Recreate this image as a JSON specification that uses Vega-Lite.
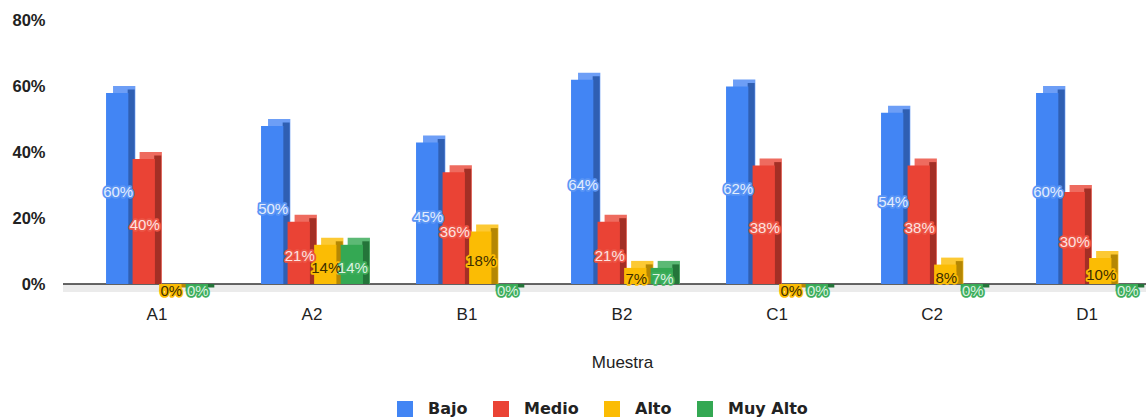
{
  "$schema": "https://vega.github.io/schema/vega-lite/v6.json",
  "width": 1083,
  "height": 264,
  "autosize": "none",
  "padding": {"left": 63, "top": 20, "right": 0, "bottom": 136},
  "config": {"view": {"stroke": null}, "font": "Liberation Sans"},
  "data": {
    "values": [
      {"muestra": "A1", "nivel": "Bajo", "valor": 0.60},
      {"muestra": "A1", "nivel": "Medio", "valor": 0.40},
      {"muestra": "A1", "nivel": "Alto", "valor": 0},
      {"muestra": "A1", "nivel": "Muy Alto", "valor": 0},
      {"muestra": "A2", "nivel": "Bajo", "valor": 0.50},
      {"muestra": "A2", "nivel": "Medio", "valor": 0.21},
      {"muestra": "A2", "nivel": "Alto", "valor": 0.14},
      {"muestra": "A2", "nivel": "Muy Alto", "valor": 0.14},
      {"muestra": "B1", "nivel": "Bajo", "valor": 0.45},
      {"muestra": "B1", "nivel": "Medio", "valor": 0.36},
      {"muestra": "B1", "nivel": "Alto", "valor": 0.18},
      {"muestra": "B1", "nivel": "Muy Alto", "valor": 0},
      {"muestra": "B2", "nivel": "Bajo", "valor": 0.64},
      {"muestra": "B2", "nivel": "Medio", "valor": 0.21},
      {"muestra": "B2", "nivel": "Alto", "valor": 0.07},
      {"muestra": "B2", "nivel": "Muy Alto", "valor": 0.07},
      {"muestra": "C1", "nivel": "Bajo", "valor": 0.62},
      {"muestra": "C1", "nivel": "Medio", "valor": 0.38},
      {"muestra": "C1", "nivel": "Alto", "valor": 0},
      {"muestra": "C1", "nivel": "Muy Alto", "valor": 0},
      {"muestra": "C2", "nivel": "Bajo", "valor": 0.54},
      {"muestra": "C2", "nivel": "Medio", "valor": 0.38},
      {"muestra": "C2", "nivel": "Alto", "valor": 0.08},
      {"muestra": "C2", "nivel": "Muy Alto", "valor": 0},
      {"muestra": "D1", "nivel": "Bajo", "valor": 0.60},
      {"muestra": "D1", "nivel": "Medio", "valor": 0.30},
      {"muestra": "D1", "nivel": "Alto", "valor": 0.10},
      {"muestra": "D1", "nivel": "Muy Alto", "valor": 0}
    ]
  },
  "resolve": {"scale": {"x": "independent", "y": "independent", "color": "independent", "fill": "independent", "stroke": "independent"}},
  "layer": [
    {
      "data": {"values": [{}]},
      "mark": {"type": "rule", "color": "#ebebeb", "strokeWidth": 8, "yOffset": 4},
      "encoding": {
        "y": {
          "datum": 0,
          "type": "quantitative",
          "scale": {"domain": [0, 0.8]},
          "axis": {
            "values": [0, 0.1, 0.2, 0.3, 0.4, 0.5, 0.6, 0.7, 0.8],
            "labelExpr": "round(datum.value * 100) % 20 === 0 ? round(datum.value * 100) + '%' : ''",
            "gridColor": {"condition": {"test": "round(datum.value * 100) % 20 === 0", "value": "#cccccc"}, "value": "#e6e6e6"},
            "gridWidth": 1,
            "domain": false,
            "ticks": false,
            "labelFont": "Liberation Sans",
            "labelFontWeight": "bold",
            "labelFontSize": 16.5,
            "labelColor": "#222222",
            "labelPadding": 18,
            "title": null
          }
        }
      }
    },
    {
      "data": {"values": [{}]},
      "mark": {"type": "rule", "color": "#333333", "strokeWidth": 1.5},
      "encoding": {
        "y": {"datum": 0, "type": "quantitative", "scale": {"domain": [0, 0.8]}, "axis": null}
      }
    },
    {
      "mark": {"type": "bar"},
      "encoding": {
        "x": {
          "field": "muestra",
          "type": "nominal",
          "scale": {"range": [23.5, 1108.5], "paddingInner": 0, "paddingOuter": 0},
          "axis": null
        },
        "xOffset": {
          "field": "nivel",
          "type": "nominal",
          "scale": {"domain": ["Bajo", "Medio", "Alto", "Muy Alto"], "paddingInner": 0.16, "paddingOuter": 1.18}
        },
        "y": {"field": "valor", "type": "quantitative", "stack": null, "scale": {"domain": [0, 0.8]}, "axis": null},
        "color": {
          "field": "nivel",
          "type": "nominal",
          "scale": {"domain": ["Bajo", "Medio", "Alto", "Muy Alto"], "range": ["#6d9ef6", "#ee6b5f", "#fcc934", "#5cb975"]},
          "legend": null
        }
      }
    },
    {
      "mark": {"type": "bar", "width": 7, "yOffset": 3.5, "y2Offset": 3.5},
      "encoding": {
        "x": {
          "field": "muestra",
          "type": "nominal",
          "scale": {"range": [30.5, 1115.5], "paddingInner": 0, "paddingOuter": 0},
          "axis": null
        },
        "xOffset": {
          "field": "nivel",
          "type": "nominal",
          "scale": {"domain": ["Bajo", "Medio", "Alto", "Muy Alto"], "paddingInner": 0.16, "paddingOuter": 1.18}
        },
        "y": {"field": "valor", "type": "quantitative", "stack": null, "scale": {"domain": [0, 0.8]}, "axis": null},
        "color": {
          "field": "nivel",
          "type": "nominal",
          "scale": {"domain": ["Bajo", "Medio", "Alto", "Muy Alto"], "range": ["#2f5fb3", "#a32f25", "#b58703", "#24753a"]},
          "legend": null
        }
      }
    },
    {
      "mark": {"type": "bar", "yOffset": 7, "y2Offset": 7},
      "encoding": {
        "x": {
          "field": "muestra",
          "type": "nominal",
          "scale": {"range": [16.5, 1101.5], "paddingInner": 0, "paddingOuter": 0},
          "axis": {
            "labelAngle": 0,
            "domain": false,
            "ticks": false,
            "labelFontSize": 17,
            "labelColor": "#222222",
            "labelPadding": 22,
            "title": "Muestra",
            "titleFontSize": 17,
            "titleFontWeight": "normal",
            "titleColor": "#222222",
            "titlePadding": 32
          }
        },
        "xOffset": {
          "field": "nivel",
          "type": "nominal",
          "scale": {"domain": ["Bajo", "Medio", "Alto", "Muy Alto"], "paddingInner": 0.16, "paddingOuter": 1.18}
        },
        "y": {"field": "valor", "type": "quantitative", "stack": null, "scale": {"domain": [0, 0.8]}, "axis": null},
        "color": {
          "field": "nivel",
          "type": "nominal",
          "scale": {"domain": ["Bajo", "Medio", "Alto", "Muy Alto"], "range": ["#4285f4", "#ea4335", "#fbbc04", "#34a853"]},
          "legend": {
            "orient": "none",
            "legendX": 334,
            "legendY": 381,
            "direction": "horizontal",
            "title": null,
            "symbolType": "square",
            "symbolSize": 256,
            "symbolStrokeWidth": 0,
            "labelFont": "DejaVu Sans",
            "labelFontWeight": "bold",
            "labelFontSize": 16,
            "labelColor": "#222222",
            "labelOffset": 15,
            "columnPadding": 25
          }
        }
      }
    },
    {
      "mark": {"type": "text", "dx": 1, "dy": 7, "baseline": "middle", "fontSize": 15, "strokeWidth": 3.5, "strokeJoin": "round"},
      "encoding": {
        "x": {
          "field": "muestra",
          "type": "nominal",
          "scale": {"range": [16.5, 1101.5], "paddingInner": 0, "paddingOuter": 0},
          "axis": null
        },
        "xOffset": {
          "field": "nivel",
          "type": "nominal",
          "scale": {"domain": ["Bajo", "Medio", "Alto", "Muy Alto"], "paddingInner": 0.16, "paddingOuter": 1.18}
        },
        "y": {"field": "valor", "type": "quantitative", "scale": {"domain": [0, 1.6]}, "axis": null},
        "text": {"field": "valor", "type": "quantitative", "format": ".0%"},
        "stroke": {
          "field": "nivel",
          "type": "nominal",
          "scale": {"domain": ["Bajo", "Medio", "Alto", "Muy Alto"], "range": ["#5a95f5", "#ec5546", "#fbbc04", "#3fae5c"]},
          "legend": null
        },
        "fill": {
          "field": "nivel",
          "type": "nominal",
          "scale": {"domain": ["Bajo", "Medio", "Alto", "Muy Alto"], "range": ["#5a95f5", "#ec5546", "#fbbc04", "#3fae5c"]},
          "legend": null
        }
      }
    },
    {
      "mark": {"type": "text", "dx": 1, "dy": 7, "baseline": "middle", "fontSize": 15},
      "encoding": {
        "x": {
          "field": "muestra",
          "type": "nominal",
          "scale": {"range": [16.5, 1101.5], "paddingInner": 0, "paddingOuter": 0},
          "axis": null
        },
        "xOffset": {
          "field": "nivel",
          "type": "nominal",
          "scale": {"domain": ["Bajo", "Medio", "Alto", "Muy Alto"], "paddingInner": 0.16, "paddingOuter": 1.18}
        },
        "y": {"field": "valor", "type": "quantitative", "scale": {"domain": [0, 1.6]}, "axis": null},
        "text": {"field": "valor", "type": "quantitative", "format": ".0%"},
        "color": {
          "field": "nivel",
          "type": "nominal",
          "scale": {"domain": ["Bajo", "Medio", "Alto", "Muy Alto"], "range": ["#e3edfd", "#fde3e0", "#3d2e00", "#dcf2e2"]},
          "legend": null
        }
      }
    }
  ]
}
